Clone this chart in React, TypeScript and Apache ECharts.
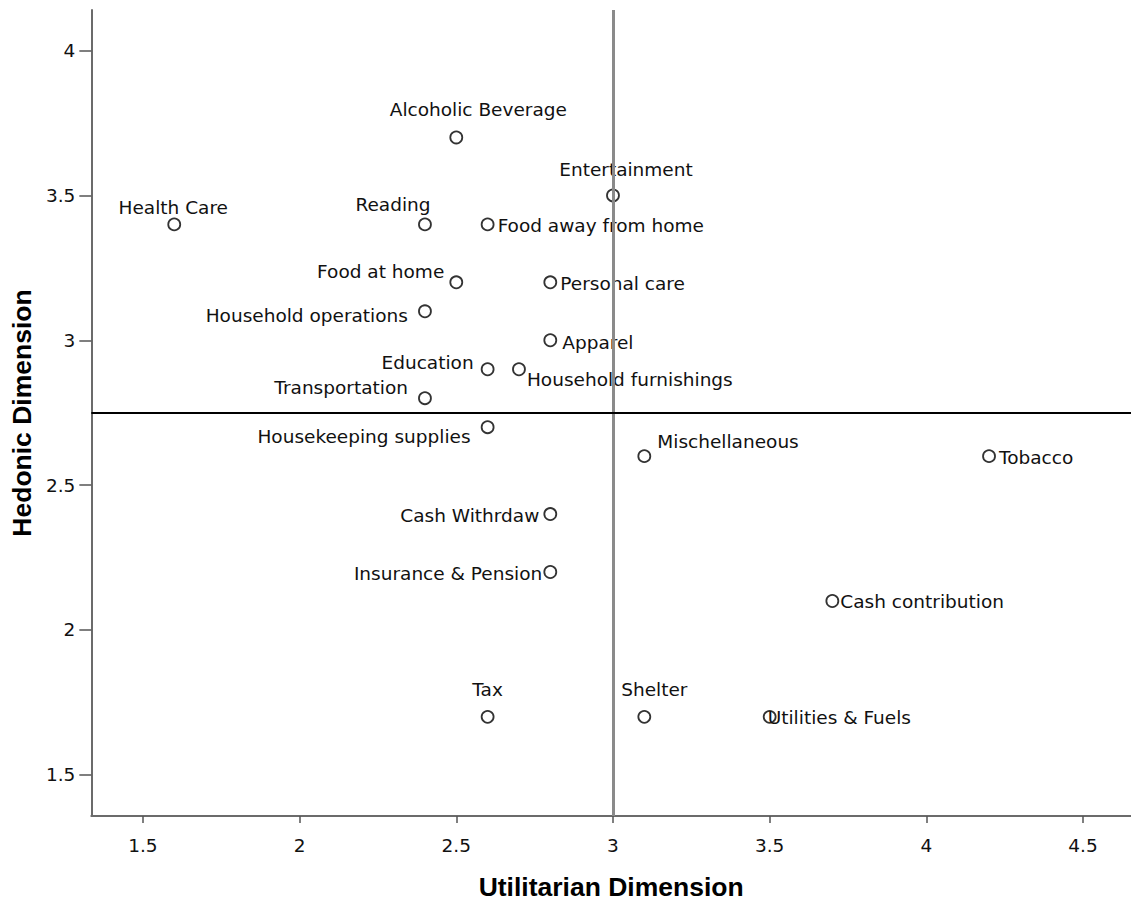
import React, { useEffect, useRef } from 'react';
import * as echarts from 'echarts';

const categories = [
  'Alcoholic Beverage', 'Entertainment', 'Health Care', 'Reading', 'Food away from home',
  'Food at home', 'Personal care', 'Household operations', 'Apparel', 'Education',
  'Household furnishings', 'Transportation', 'Housekeeping supplies', 'Mischellaneous', 'Tobacco',
  'Cash Withrdaw', 'Insurance & Pension', 'Cash contribution', 'Tax', 'Shelter', 'Utilities & Fuels',
];
const utilitarian = [2.5, 3.0, 1.6, 2.4, 2.6, 2.5, 2.8, 2.4, 2.8, 2.6, 2.7, 2.4, 2.6, 3.1, 4.2, 2.8, 2.8, 3.7, 2.6, 3.1, 3.5];
const hedonic = [3.7, 3.5, 3.4, 3.4, 3.4, 3.2, 3.2, 3.1, 3.0, 2.9, 2.9, 2.8, 2.7, 2.6, 2.6, 2.4, 2.2, 2.1, 1.7, 1.7, 1.7];
const xTicks = [1.5, 2, 2.5, 3, 3.5, 4, 4.5];
const yTicks = [1.5, 2, 2.5, 3, 3.5, 4];
const refX = 3;
const refY = 2.75;

// label layout: [align, dx, dy] relative to the point centre
const labelPlacement: Record<string, [string, number, number]> = {
  'Alcoholic Beverage': ['center', 22, -28],
  'Entertainment': ['center', 13, -26],
  'Health Care': ['center', -1, -17],
  'Reading': ['center', -32, -20],
  'Food away from home': ['left', 10, 1],
  'Food at home': ['right', -12, -11],
  'Personal care': ['left', 10, 1],
  'Household operations': ['right', -17, 4],
  'Apparel': ['left', 12, 2],
  'Education': ['right', -14, -7],
  'Household furnishings': ['left', 8, 10],
  'Transportation': ['right', -17, -11],
  'Housekeeping supplies': ['right', -17, 9],
  'Mischellaneous': ['left', 13, -15],
  'Tobacco': ['left', 10, 1],
  'Cash Withrdaw': ['right', -11, 1],
  'Insurance & Pension': ['right', -8, 1],
  'Cash contribution': ['left', 8, 1],
  'Tax': ['center', 0, -27],
  'Shelter': ['center', 10, -27],
  'Utilities & Fuels': ['left', -2, 1],
};

export default function App() {
  const ref = useRef<HTMLDivElement>(null);
  useEffect(() => {
    if (!ref.current) return;
    const chart = echarts.init(ref.current, undefined, { renderer: 'svg' });
    const data = categories.map((name, i) => {
      const p = labelPlacement[name] || ['left', 10, 0];
      return {
        name,
        value: [utilitarian[i], hedonic[i]],
        label: { align: p[0], offset: [p[1], p[2]] },
      };
    });
    const axisLabelStyle = { color: '#111', fontFamily: 'DejaVu Sans', fontSize: 18.5 };
    const nameStyle = { color: '#000', fontFamily: 'Liberation Sans', fontWeight: 'bold' as const, fontSize: 26.5 };
    chart.setOption({
      animation: false,
      backgroundColor: '#fff',
      grid: { left: 89, right: 0, top: 10, bottom: 87 },
      xAxis: {
        type: 'value',
        min: 1.3354,
        max: 4.653,
        name: 'Utilitarian Dimension',
        nameLocation: 'middle',
        nameGap: 57,
        nameTextStyle: nameStyle,
        axisLine: { show: true, lineStyle: { color: '#6b6b6b', width: 2 } },
        axisTick: { show: true, length: 7, customValues: xTicks, lineStyle: { color: '#555', width: 1.5 } },
        axisLabel: { ...axisLabelStyle, margin: 20, customValues: xTicks, formatter: (v: number) => String(v) },
        splitLine: { show: false },
      },
      yAxis: {
        type: 'value',
        min: 1.3578,
        max: 4.14,
        name: 'Hedonic Dimension',
        nameLocation: 'middle',
        nameGap: 50,
        nameTextStyle: nameStyle,
        axisLine: { show: true, lineStyle: { color: '#6b6b6b', width: 2 } },
        axisTick: { show: true, length: 12, customValues: yTicks, lineStyle: { color: '#555', width: 1.5 } },
        axisLabel: { ...axisLabelStyle, margin: 16, customValues: yTicks, formatter: (v: number) => String(v) },
        splitLine: { show: false },
      },
      series: [
        {
          type: 'scatter',
          data,
          symbol: 'circle',
          symbolSize: 12,
          itemStyle: { color: '#fff', borderColor: '#333', borderWidth: 1.8, opacity: 1 },
          label: {
            show: true,
            position: 'inside',
            formatter: '{b}',
            color: '#111',
            fontFamily: 'DejaVu Sans',
            fontSize: 18.5,
            verticalAlign: 'middle',
          },
          emphasis: { disabled: true },
          markLine: {
            silent: true,
            symbol: ['none', 'none'],
            label: { show: false },
            animation: false,
            data: [
              { xAxis: refX, lineStyle: { color: '#8a8a8a', width: 3, type: 'solid' } },
              { yAxis: refY, lineStyle: { color: '#000', width: 2, type: 'solid' } },
            ],
          },
        },
      ],
    });
    return () => chart.dispose();
  }, []);
  return <div ref={ref} style={{ position: 'absolute', left: 0, top: 0, width: 1131, height: 905 }} />;
}
